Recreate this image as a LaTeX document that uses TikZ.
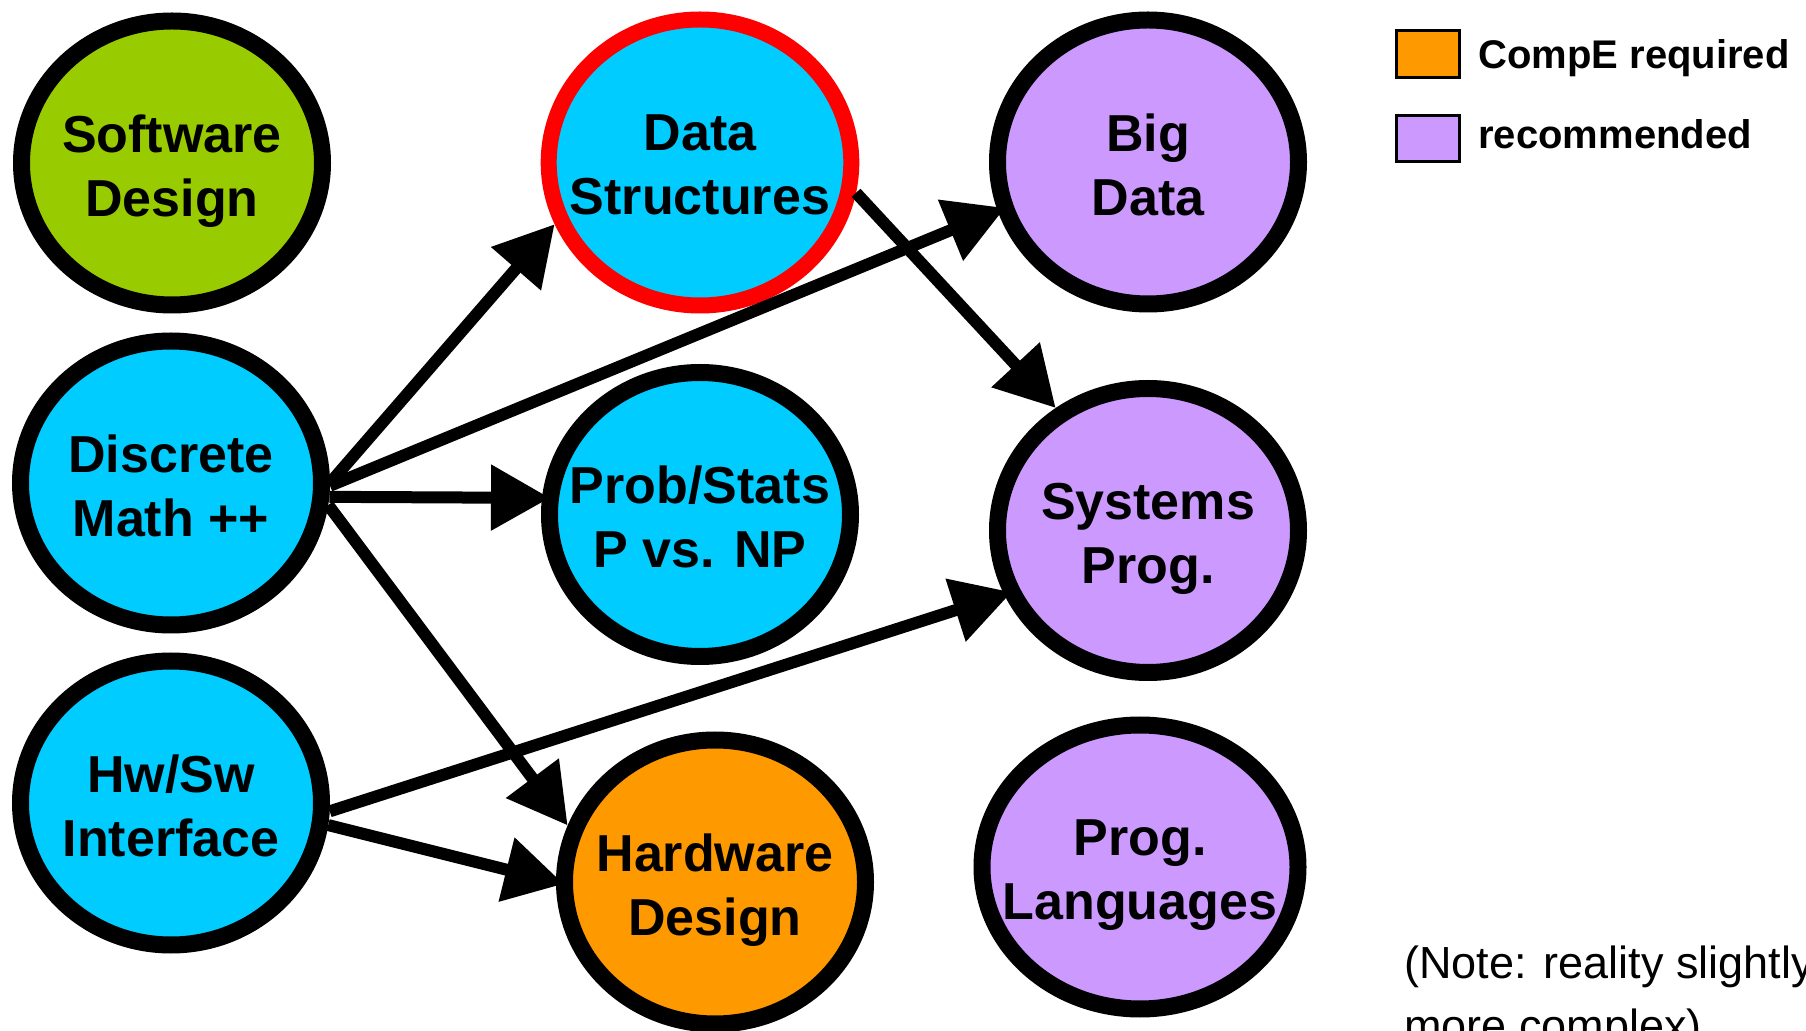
\documentclass[tikz,border=0pt]{standalone}
\usepackage{fontspec}
\setmainfont{Liberation Sans}
\usetikzlibrary{arrows.meta,shapes.geometric}
\definecolor{swgreen}{HTML}{99CC00}
\definecolor{corecyan}{HTML}{00CCFF}
\definecolor{compeorange}{HTML}{FF9900}
\definecolor{recpurple}{HTML}{CC99FF}
\begin{document}
\begin{tikzpicture}[x=0.5pt,y=-0.5pt,
  bubble/.style={ellipse, draw=black, line width=8.5pt, minimum width=150.5pt,
    minimum height=142pt, inner sep=0pt},
  lbl/.style={font=\fontsize{26}{32}\selectfont\bfseries, align=center,
    text depth=0pt, inner sep=0pt, yshift=-1.2pt},
  arr/.style={line width=6pt, -{Triangle[length=29.5pt,width=31.5pt]}},
  reach/.style={shorten >=-4pt},
  legendbox/.style={draw=black, line width=1.5pt, minimum width=31.5pt,
    minimum height=23.2pt, inner sep=0pt},
  legendtext/.style={anchor=base west, inner sep=0pt,
    font=\fontsize{20}{24}\selectfont\bfseries}]
\useasboundingbox (0,0) rectangle (1806,1031);

% course bubbles
\node[bubble, fill=swgreen] (sd) at (172,163) {};
\node[bubble, fill=corecyan, draw=red, line width=8pt, minimum width=151.3pt,
  minimum height=143pt] (ds) at (700,162.5) {};
\node[bubble, fill=recpurple] (bd) at (1148,162) {};
\node[bubble, fill=corecyan] (dm) at (171,483) {};
\node[bubble, fill=corecyan] (ps) at (700,514.5) {};
\node[bubble, fill=recpurple] (sp) at (1148,530.5) {};
\node[bubble, fill=corecyan] (hs) at (171,803) {};
\node[bubble, fill=compeorange] (hd) at (715,882) {};
\node[bubble, fill=recpurple, minimum width=158pt] (pl) at (1140,867) {};

% prerequisite arrows
\draw[arr] (dm.0) -- (ds.203.6);
\draw[arr, reach] (dm.-1) -- (bd.198);
\draw[arr, reach] (dm.-5.9) -- (ps.174.1);
\draw[arr] (dm.-8) -- (hd.159);
\draw[arr] (ds.-11.8) -- (sp.127.6);
\draw[arr, reach] (hs.-3.1) -- (sp.204.8);
\draw[arr, reach] (hs.-8.6) -- (hd.180);

% course names
\node[lbl] (sdt) at (sd) {Software\\Design};
\node[lbl] (dst) at (ds) {Data\\Structures};
\node[lbl] (bdt) at (bd) {Big\\Data};
\node[lbl] (dmt) at (dm) {Discrete\\Math ++};
\node[lbl] (pst) at (ps) {Prob/Stats\\P vs. NP};
\node[lbl] (spt) at (sp) {Systems\\Prog.};
\node[lbl] (hst) at (hs) {Hw/Sw\\Interface};
\node[lbl] (hdt) at (hd) {Hardware\\Design};
\node[lbl] (plt) at (pl) {Prog.\\Languages};

% legend
\node[legendbox, fill=compeorange] (req) at (1428,54) {};
\node[legendbox, fill=recpurple] (rec) at (1428,138.7) {};
\node[legendtext] (reqt) at (1478,68.3) {CompE required};
\node[legendtext] (rect) at (1478,148.3) {recommended};

% footnote, running off the lower right corner
\node[anchor=north west, inner sep=0pt, align=left,
  font=\fontsize{22.5}{31.5}\selectfont] (note) at (1404,945)
  {(Note: reality slightly\\more complex)};
\end{tikzpicture}
\end{document}
